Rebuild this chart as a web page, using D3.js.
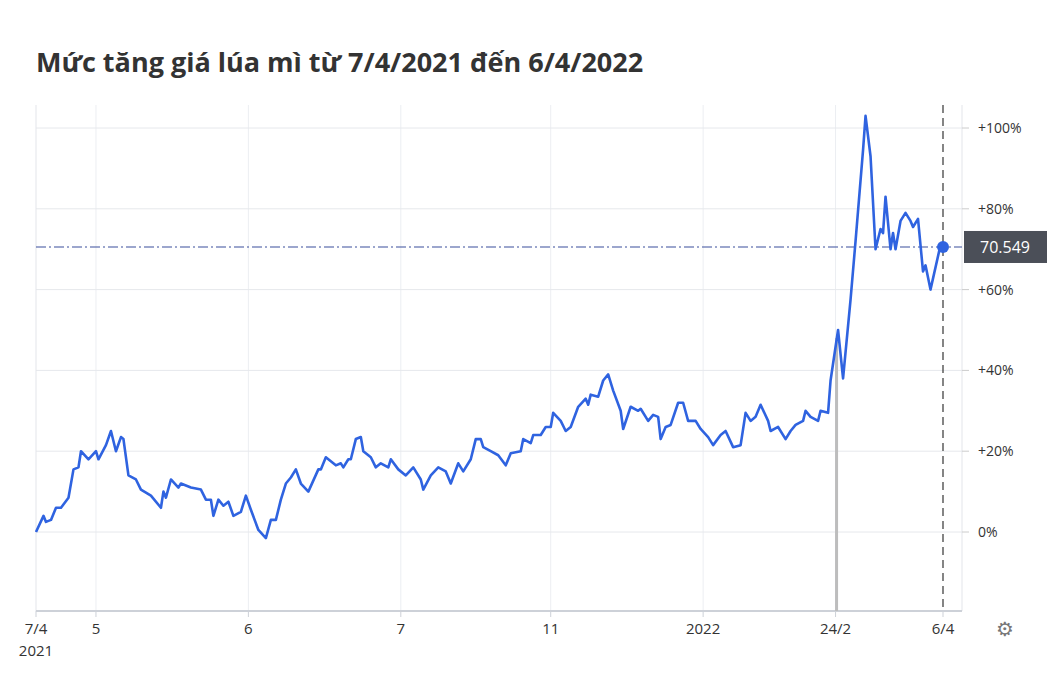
<!DOCTYPE html>
<html><head><meta charset="utf-8">
<script src="https://cdn.jsdelivr.net/npm/d3@7"></script>
<style>body{margin:0;background:#fff}svg{font-family:"Open Sans",Arial,sans-serif}</style>
</head><body><svg id="chart" width="1047" height="686"></svg>
<script>
// days since 7/4/2021, and price change in %
const days = [0,3,4,6,8,10,13,15,17,18,21,24,25,28,30,32,34,35,37,40,42,46,50,51,52,54,57,58,62,66,68,70,71,73,75,77,79,82,84,86,89,92,94,96,98,100,102,104,106,109,113,114,116,120,122,123,125,126,128,130,131,134,136,138,141,142,145,148,151,154,155,158,161,164,166,169,171,174,176,178,179,182,185,188,190,194,195,198,199,202,204,206,207,210,212,214,217,220,221,222,225,227,229,231,234,235,238,241,242,245,247,249,250,252,254,257,259,261,264,266,269,271,274,276,279,282,284,286,288,290,293,294,297,300,302,304,307,308,310,313,314,317,318,321,323,326,328,331,332,334,336,338,339,340,342,343,344,346,348,350,351,353,355,356,358,362,363];
const pct = [0,4,2.5,3,6,6,8.5,15.5,16,20,18,20,18,21.5,25,20,23.5,23,14,13,10.5,9,6,10,8.5,13,11,12,11,10.5,8,8,4,8,6.5,7.5,4,5,9,5.5,0.5,-1.5,3,3,8,12,13.5,15.5,12,10,15.5,15.5,18.5,16.5,17,16,18,18,23,23.5,20,18.5,16,17,16,18,15.5,14,16,13,10.5,14,16,15,12,17,15,18,23,23,21,20,19,16.5,19.5,20,23,22,24,24,26,26,29.5,27.5,25,26,31,33,31.5,34,33.5,37.5,39,35,30,25.5,31,30,30.5,27.5,29,28.5,23,26,26.5,32,32,27.5,27.5,25.5,23.5,21.5,24,25,21,21.5,29.5,27.5,28.5,31.5,27.5,25,26,23,25,26.5,27.5,30,28.5,27.5,30,29.5,37.5,50,38,57.5,72,94.5,103,93,70,75,74,83,70,74,70,77,79,77,75.5,77.5,64.5,66,60,71,70.549];
const tickDays = [0,24,85,146,206,267,320,363];
const tickLabels = ["7/4","5","6","7","11","2022","24/2","6/4"];
const yTicks = [0,20,40,60,80,100];
const lastValue = 70.549;
const eventDay = 320;

const svg = d3.select("#chart");
const pLeft = 36, pRight = 962, pTop = 105, pBottom = 611;
const x = d3.scaleLinear().domain([0, 363]).range([pLeft, 943]);
const y = d3.scaleLinear().domain([0, 100]).range([532, 128]);

svg.append("text").attr("x", 36).attr("y", 72)
  .attr("font-size", 27).attr("font-weight", "bold").attr("fill", "#333")
  .text("Mức tăng giá lúa mì từ 7/4/2021 đến 6/4/2022");

// grid
svg.selectAll(".vg").data(tickDays.slice(1, -1)).enter().append("line")
  .attr("x1", d => x(d)).attr("x2", d => x(d)).attr("y1", pTop).attr("y2", pBottom)
  .attr("stroke", "#eceef2");
svg.selectAll(".hg").data(yTicks).enter().append("line")
  .attr("x1", pLeft).attr("x2", pRight).attr("y1", d => y(d)).attr("y2", d => y(d))
  .attr("stroke", "#e6e8ec");
svg.append("line").attr("x1", pLeft).attr("x2", pLeft).attr("y1", pTop).attr("y2", pBottom).attr("stroke", "#e3e5ea");
svg.append("line").attr("x1", pRight).attr("x2", pRight).attr("y1", pTop).attr("y2", pBottom).attr("stroke", "#e3e5ea");
svg.append("line").attr("x1", pLeft).attr("x2", pRight).attr("y1", pBottom).attr("y2", pBottom).attr("stroke", "#cdd1d8").attr("stroke-width", 2);

// right axis
const ya = svg.selectAll(".yl").data(yTicks).enter().append("g");
ya.append("line").attr("x1", pRight).attr("x2", pRight + 7).attr("y1", d => y(d)).attr("y2", d => y(d)).attr("stroke", "#ccc");
ya.append("text").attr("x", pRight + 16).attr("y", d => y(d) + 5)
  .attr("font-size", 14).attr("fill", "#333").text(d => d === 0 ? "0%" : "+" + d + "%");

// x labels
svg.selectAll(".xl").data(tickDays).enter().append("text")
  .attr("x", d => x(d)).attr("y", 634).attr("text-anchor", "middle")
  .attr("font-size", 15).attr("fill", "#333").text((d, i) => tickLabels[i]);
svg.append("text").attr("x", 36).attr("y", 656).attr("text-anchor", "middle")
  .attr("font-size", 15).attr("fill", "#333").text("2021");
svg.selectAll(".xt").data(tickDays).enter().append("line")
  .attr("x1", d => x(d)).attr("x2", d => x(d)).attr("y1", pBottom).attr("y2", pBottom + 6).attr("stroke", "#cdd1d8");

// event bar
svg.append("line").attr("x1", x(eventDay) + 1).attr("x2", x(eventDay) + 1)
  .attr("y1", y(48)).attr("y2", pBottom).attr("stroke", "#bdbdbd").attr("stroke-width", 3);

// last value line
svg.append("line").attr("x1", pLeft).attr("x2", pRight).attr("y1", y(lastValue)).attr("y2", y(lastValue))
  .attr("stroke", "#3b4f9c").attr("stroke-width", 1.2).attr("stroke-dasharray", "10,3,2,3");
svg.append("line").attr("x1", x(363)).attr("x2", x(363)).attr("y1", pTop).attr("y2", pBottom)
  .attr("stroke", "#444").attr("stroke-dasharray", "8,5").attr("stroke-width", 1.3);

const line = d3.line().x((d, i) => x(days[i])).y(d => y(d));
svg.append("path").datum(pct).attr("d", line).attr("fill", "none")
  .attr("stroke", "#2f63e0").attr("stroke-width", 2.6).attr("stroke-linejoin", "round");
svg.append("circle").attr("cx", x(363)).attr("cy", y(lastValue)).attr("r", 6).attr("fill", "#2f63e0");

// value label
svg.append("rect").attr("x", 964).attr("y", y(lastValue) - 16).attr("width", 83).attr("height", 32).attr("fill", "#4b4f58");
svg.append("text").attr("x", 1005).attr("y", y(lastValue) + 6).attr("text-anchor", "middle")
  .attr("font-size", 16).attr("fill", "#fff").text(lastValue.toFixed(3));

svg.append("text").attr("x", 1005).attr("y", 636).attr("text-anchor", "middle")
  .attr("font-size", 20).attr("fill", "#777").attr("font-family", "DejaVu Sans").text("⚙");
</script></body></html>
